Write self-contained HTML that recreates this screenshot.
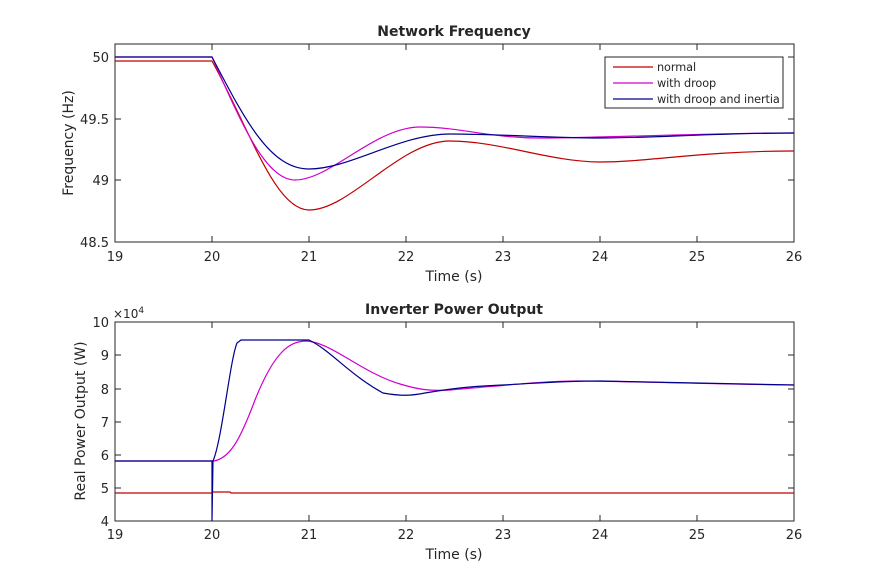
<!DOCTYPE html>
<html><head><meta charset="utf-8"><style>body{margin:0;background:#fff}svg{display:block}text{font-family:"DejaVu Sans","Liberation Sans",sans-serif;fill:#262626}</style></head>
<body>
<svg width="879" height="586" viewBox="0 0 879 586" xmlns="http://www.w3.org/2000/svg">
<rect width="879" height="586" fill="#fff"/>
<g font-size="13" text-anchor="middle">
<text x="454" y="36" font-weight="bold" font-size="14">Network Frequency</text>
<text x="454" y="314" font-weight="bold" font-size="14">Inverter Power Output</text>
<text x="454" y="281" font-size="14">Time (s)</text>
<text x="454" y="559" font-size="14">Time (s)</text>
<text transform="translate(73,143) rotate(-90)" font-size="14">Frequency (Hz)</text>
<text transform="translate(85,421) rotate(-90)" font-size="14">Real Power Output (W)</text>
</g>
<rect x="115" y="44" width="679" height="198" fill="none" stroke="#262626" stroke-width="1"/>
<rect x="115" y="322" width="679" height="199" fill="none" stroke="#262626" stroke-width="1"/>
<g stroke="#262626" stroke-width="1">
<path d="M212,242v-6M309,242v-6M406,242v-6M503,242v-6M600,242v-6M697,242v-6M212,44v6M309,44v6M406,44v6M503,44v6M600,44v6M697,44v6"/>
<path d="M115,57h6M115,119h6M115,180h6M794,57h-6M794,119h-6M794,180h-6"/>
<path d="M212,521v-6M309,521v-6M406,521v-6M503,521v-6M600,521v-6M697,521v-6M212,322v6M309,322v6M406,322v6M503,322v6M600,322v6M697,322v6"/>
<path d="M115,488h6M115,455h6M115,422h6M115,389h6M115,355h6M794,488h-6M794,455h-6M794,422h-6M794,389h-6M794,355h-6"/>
</g>
<g font-size="13" text-anchor="middle">
<text x="115" y="261">19</text><text x="212" y="261">20</text><text x="309" y="261">21</text><text x="406" y="261">22</text><text x="503" y="261">23</text><text x="600" y="261">24</text><text x="697" y="261">25</text><text x="794" y="261">26</text>
<text x="115" y="539">19</text><text x="212" y="539">20</text><text x="309" y="539">21</text><text x="406" y="539">22</text><text x="503" y="539">23</text><text x="600" y="539">24</text><text x="697" y="539">25</text><text x="794" y="539">26</text>
</g>
<g font-size="13" text-anchor="end">
<text x="109" y="62">50</text><text x="109" y="124">49.5</text><text x="109" y="185">49</text><text x="109" y="247">48.5</text>
<text x="109" y="526">4</text><text x="109" y="493">5</text><text x="109" y="460">6</text><text x="109" y="427">7</text><text x="109" y="394">8</text><text x="109" y="360">9</text><text x="109" y="327">10</text>
</g>
<text x="113" y="318" font-size="12">×10<tspan dy="-5" font-size="9">4</tspan></text>
<g fill="none" stroke-width="1.2">
<path stroke="#c00000" d="M115,61 L212,61 C250,130 275,210 309,210 C350,210 400,141 450,141 C500,141 550,162 600,162 C650,162 700,151 794,151"/>
<path stroke="#d000d0" d="M115,57 L212,57 C240,120 265,180 295,180 C330,180 375,127 420,127 C460,127 490,138 540,138 C600,138 700,133 794,133"/>
<path stroke="#00008b" d="M115,57 L212,57 C245,120 270,169 309,169 C350,169 400,134 450,134 C500,134 550,138 600,138 C650,138 720,133 794,133"/>
</g>
<rect x="605" y="57" width="178" height="51" fill="#fff" stroke="#262626"/>
<g stroke-width="1.2"><path d="M613,67h40" stroke="#c00000"/><path d="M613,83h40" stroke="#d000d0"/><path d="M613,99h40" stroke="#00008b"/></g>
<g font-size="11.3" letter-spacing="-0.1"><text x="657" y="71">normal</text><text x="657" y="87">with droop</text><text x="657" y="103">with droop and inertia</text></g>
<g fill="none" stroke-width="1.2">
<path stroke="#c00000" d="M115,493 L212,493 L213,492 L230,492 L231,493 L794,493"/>
<path stroke="#d000d0" d="M115,461 L214,461 C230,458 240,440 255,400 C275,350 290,342 305,341 C330,341 360,372 400,384 C420,390 430,391 450,390 C500,386 540,381 580,381 C620,381 700,384 794,385"/>
<path stroke="#00008b" d="M115,461 L212,461 L212,521 L213,461 C222,440 230,360 237,343 L241,340 L309,340 C330,350 350,375 383,393 C400,396 410,396 425,393 C460,387 480,386 503,385 C540,383 560,381 600,381 C650,382 720,384 794,385"/>
</g>
</svg>
</body></html>
